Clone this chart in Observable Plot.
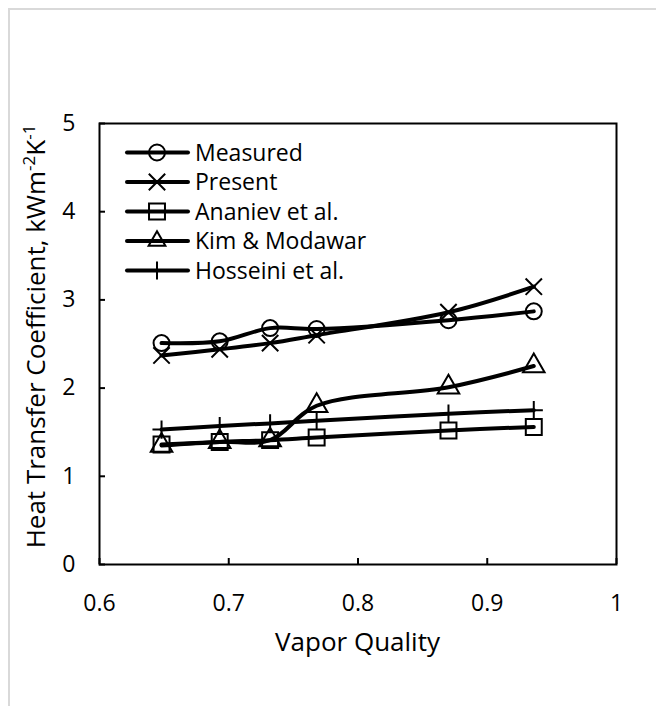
<!DOCTYPE html>
<html><head><meta charset="utf-8">
<script src="https://cdn.jsdelivr.net/npm/d3@7"></script>
<script src="https://cdn.jsdelivr.net/npm/@observablehq/plot@0.6"></script>
<style>
html,body{margin:0;padding:0;background:#fff;}
#wrap{position:relative;width:656px;height:706px;overflow:hidden;font-family:"Open Sans",sans-serif;}
#border{position:absolute;left:8px;top:8px;width:700px;height:800px;border-left:2px solid #d9d9d9;border-top:2px solid #d9d9d9;}
#chart{position:absolute;left:0;top:0;}
</style></head><body><div id="wrap"><div id="border"></div><div id="chart"></div></div>
<script>
// ---- data ----
const vaporQuality = [0.648, 0.693, 0.732, 0.768, 0.870, 0.936];
const measured     = [2.51, 2.53, 2.68, 2.67, 2.77, 2.87];
const present      = [2.37, 2.44, 2.51, 2.60, 2.86, 3.15];
const ananiev      = [1.36, 1.39, 1.41, 1.44, 1.52, 1.56];
const kimModawar   = [1.35, 1.39, 1.41, 1.80, 2.01, 2.25];
const hosseini     = [1.53, 1.57, 1.60, 1.63, 1.71, 1.75];
const seriesNames  = ["Measured", "Present", "Ananiev et al.", "Kim & Modawar", "Hosseini et al."];
const xTicks = [0.6, 0.7, 0.8, 0.9, 1];
const xTickLabels = ["0.6", "0.7", "0.8", "0.9", "1"];
const yTicks = [0, 1, 2, 3, 4, 5];
const yTickLabels = ["0", "1", "2", "3", "4", "5"];
const xTitle = "Vapor Quality";

// ---- build ----
const seriesValues = [measured, present, ananiev, kimModawar, hosseini];
const rows = seriesNames.flatMap((name, i) => vaporQuality.map((x, j) => ({series: name, x, y: seriesValues[i][j]})));
const symbolNames = ["circle", "times", "square", "triangle", "plus"];
const markerR = {"Measured": 8, "Present": 7.5, "Ananiev et al.": 9, "Kim & Modawar": 8, "Hosseini et al.": 5.9};

const plot = Plot.plot({
  width: 656, height: 706,
  marginLeft: 99, marginRight: 40, marginTop: 123, marginBottom: 142,
  style: {fontFamily: "'Open Sans', sans-serif", fontSize: "23px", color: "black", background: "transparent", overflow: "visible"},
  x: {domain: [0.6, 1]},
  y: {domain: [0, 5]},
  symbol: {domain: seriesNames, range: symbolNames},
  r: {type: "identity"},
  marks: [
    Plot.axisX({ticks: xTicks, tickSize: 0, tickPadding: 30, tickFormat: (d, i) => xTickLabels[i], label: null, fontSize: 23}),
    Plot.axisX({ticks: xTicks, tickSize: -6, strokeWidth: 2, text: null, label: null}),
    Plot.axisY({ticks: yTicks, tickSize: 0, tickPadding: 24, tickFormat: (d, i) => yTickLabels[i], label: null, fontSize: 23}),
    Plot.axisY({ticks: yTicks, tickSize: -6, strokeWidth: 2, text: null, label: null}),
    Plot.line(rows, {x: "x", y: "y", z: "series", curve: "catmull-rom", stroke: "black", strokeWidth: 4}),
    Plot.dot(rows, {x: "x", y: "y", symbol: "series", r: d => markerR[d.series], fill: "none", stroke: "black", strokeWidth: 2}),
    Plot.frame({stroke: "black", strokeWidth: 2})
  ]
});
document.getElementById("chart").appendChild(plot);

const svg = d3.select(plot);
const xs = plot.scale("x"), ys = plot.scale("y");
const cx = (xs.range[0] + xs.range[1]) / 2;
const cy = (ys.range[0] + ys.range[1]) / 2;

// x title
svg.append("text").attr("x", cx).attr("y", 651).attr("text-anchor", "middle")
  .attr("font-size", 26).attr("fill", "black").text(xTitle);

// y title with superscripts
const yt = svg.append("text").attr("transform", `translate(45,${cy - 7}) rotate(-90)`)
  .attr("text-anchor", "middle").attr("font-size", 26).attr("fill", "black");
yt.append("tspan").text("Heat Transfer Coefficient, kWm");
yt.append("tspan").attr("font-size", 17).attr("dy", -10).text("-2");
yt.append("tspan").attr("dy", 10).text("K");
yt.append("tspan").attr("font-size", 17).attr("dy", -10).text("-1");

// legend
const lg = svg.append("g");
const symMap = {circle: d3.symbolCircle, times: d3.symbolTimes, square: d3.symbolSquare, triangle: d3.symbolTriangle2, plus: d3.symbolPlus};
seriesNames.forEach((name, i) => {
  const y = 152.5 + i * 29.5;
  const g = lg.append("g").attr("transform", `translate(0,${y})`);
  g.append("line").attr("x1", 127).attr("x2", 188).attr("stroke", "black").attr("stroke-width", 4).attr("stroke-linecap", "round");
  const r = markerR[name];
  g.append("path").attr("transform", "translate(157,0)")
    .attr("d", d3.symbol(symMap[symbolNames[i]], Math.PI * r * r)())
    .attr("fill", "none").attr("stroke", "black").attr("stroke-width", 2);
  g.append("text").attr("x", 195).attr("dy", "0.35em").attr("text-anchor", "start")
    .attr("font-size", 23).attr("fill", "black").text(name);
});
</script></body></html>
